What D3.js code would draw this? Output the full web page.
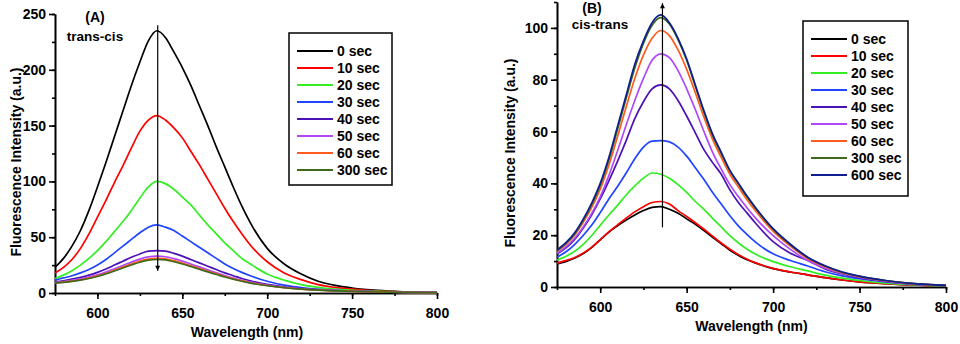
<!DOCTYPE html>
<html>
<head>
<meta charset="utf-8">
<script src="https://cdn.jsdelivr.net/npm/d3@7"></script>
<style>
  body { margin: 0; background: #fff; }
  svg text { font-family: Arial, "Liberation Sans", sans-serif; font-weight: bold; fill: #000; }
</style>
</head>
<body>
<svg id="chart" width="960" height="344"></svg>
<script>
// shared wavelength grid (nm)
const wavelengths = [575, 580, 585, 590, 595, 600, 605, 610, 615, 620, 625, 630, 635, 640, 645, 650, 655, 660,
  665, 670, 675, 680, 685, 690, 700, 710, 720, 730, 740, 750, 765, 780, 800];

// (A) trans-cis
const legendA = ["0 sec", "10 sec", "20 sec", "30 sec", "40 sec", "50 sec", "60 sec", "300 sec"];
const aSec0 = [23, 31, 42, 56, 74, 95, 117, 140, 163, 186, 207, 226, 235, 229, 216, 202, 186, 168, 150, 131, 113, 95, 78, 63, 40, 26, 17, 10.5, 6.8, 4.5, 2.3, 1.1, 0.3];
const aSec10 = [18, 23, 30, 40, 53, 68, 83, 99, 114, 130, 145, 155, 159, 155, 148, 139, 127, 115, 102, 89, 76, 64, 53, 43, 28, 18, 12, 7.5, 5, 3.4, 1.8, 1, 0.3];
const aSec20 = [13, 16, 20, 25, 31, 38, 46, 55, 64, 74, 85, 95, 100, 98, 93, 86, 79, 70, 61, 53, 45, 38, 31, 26, 17, 11.5, 7.5, 5, 3.4, 2.4, 1.4, 0.8, 0.3];
const aSec30 = [11.5, 13.5, 15.5, 18, 21, 25, 30, 36, 42, 48, 54, 59, 61, 59, 56, 51, 46, 41, 36, 31, 26, 22, 18.5, 15.5, 10.5, 7, 4.8, 3.3, 2.4, 1.8, 1.1, 0.6, 0.3];
const aSec40 = [10, 11, 12.5, 14, 16, 18.5, 21.5, 25, 28.5, 32, 35, 37.5, 38, 37.5, 35.5, 33, 30, 27, 24, 21, 18, 15.5, 13, 11, 7.8, 5.5, 4, 3, 2.2, 1.7, 1.1, 0.6, 0.3];
const aSec50 = [9.5, 10.3, 11.3, 12.6, 14.2, 16.2, 18.8, 21.7, 24.7, 27.7, 30.4, 32.3, 33, 32.5, 30.8, 28.6, 26, 23.4, 20.8, 18.2, 15.7, 13.4, 11.4, 9.7, 7, 5, 3.7, 2.8, 2.1, 1.6, 1, 0.6, 0.3];
const aSec60 = [9, 9.8, 10.7, 11.9, 13.4, 15.3, 17.7, 20.4, 23.2, 26, 28.6, 30.4, 31, 30.6, 29, 26.9, 24.5, 22, 19.6, 17.2, 14.8, 12.7, 10.8, 9.2, 6.7, 4.8, 3.5, 2.6, 2, 1.5, 1, 0.6, 0.3];
const aSec300 = [8.8, 9.5, 10.4, 11.6, 13, 14.8, 17.1, 19.7, 22.4, 25.1, 27.6, 29.4, 30, 29.6, 28, 26, 23.7, 21.3, 18.9, 16.6, 14.3, 12.3, 10.5, 8.9, 6.5, 4.7, 3.4, 2.5, 1.9, 1.4, 0.9, 0.6, 0.3];

// (B) cis-trans
const legendB = ["0 sec", "10 sec", "20 sec", "30 sec", "40 sec", "50 sec", "60 sec", "300 sec", "600 sec"];
const bSec0 = [8.9, 9.8, 11.1, 12.8, 15.2, 18.2, 21.2, 23.6, 25.8, 27.8, 29.5, 30.7, 31, 30, 28.5, 26.3, 24.2, 21.8, 19.2, 16.7, 14.2, 12.2, 10.5, 9.2, 7.1, 5.8, 4.7, 3.6, 2.7, 2, 1.3, 0.8, 0.4];
const bSec10 = [9.2, 10.2, 11.3, 13, 15.3, 18.2, 21.3, 24, 26.6, 29, 31, 32.6, 33, 32, 29.5, 27.2, 24.8, 22.3, 19.6, 17, 14.6, 12.5, 10.7, 9.3, 7.2, 5.8, 4.7, 3.6, 2.7, 2, 1.3, 0.8, 0.4];
const bSec20 = [10.4, 11.8, 13.7, 16.4, 19.8, 23.8, 27.8, 31.5, 35.5, 39, 42, 44, 43.5, 42, 39.5, 36.5, 33, 30, 26.5, 23.2, 19.8, 17, 14.6, 12.6, 9.8, 7.8, 6.2, 4.6, 3.4, 2.5, 1.5, 0.9, 0.4];
const bSec30 = [11.5, 13.5, 16.3, 19.8, 23.8, 28.7, 34, 38.8, 44, 49.5, 54, 56.3, 56.5, 56, 54, 50.5, 46, 41.5, 36.5, 32, 27.5, 23.5, 20.2, 17.2, 12.8, 10.2, 8.1, 5.9, 4.3, 3.2, 2, 1.1, 0.5];
const bSec40 = [12.7, 15, 18.2, 22.6, 27.8, 34, 41, 48.5, 56.5, 65, 71.5, 76.5, 78, 76.5, 72, 66, 59.5, 53, 48, 43.5, 37.5, 32.5, 28.5, 24.5, 17.5, 13, 10.2, 7, 5, 3.6, 2.2, 1.2, 0.6];
const bSec50 = [13, 15.4, 18.6, 23, 28.3, 34.8, 43, 52.5, 62.5, 72, 80.5, 87.5, 90, 88.5, 83.5, 76.5, 68.5, 60, 52, 45.5, 39.5, 34.8, 30.5, 26.5, 19.8, 14.5, 10.2, 7.3, 5.2, 3.8, 2.3, 1.3, 0.6];
const bSec60 = [13.8, 16.4, 19.9, 24.8, 30.6, 37.8, 47, 58, 69.5, 80.5, 89.5, 96, 99, 97, 91.5, 84, 75, 65.5, 57, 50, 43.5, 38.5, 33.6, 29.2, 21.6, 15.8, 11, 7.8, 5.5, 4, 2.4, 1.3, 0.6];
const bSec300 = [14, 16.7, 20.3, 25.5, 31.7, 39.2, 49, 60.8, 72.8, 84.5, 94, 101, 104, 101.5, 95.5, 87.5, 77.5, 67.5, 58.5, 51.5, 44.8, 39.7, 34.7, 30.2, 22.3, 16.3, 11.4, 8.1, 5.7, 4.1, 2.5, 1.4, 0.6];
const bSec600 = [14.3, 17, 20.7, 26, 32.3, 40, 50, 62, 74, 86, 95, 102, 105, 102, 96, 88, 78, 68, 59, 52, 45, 40, 35, 30.5, 22.5, 16.5, 11.5, 8.2, 5.8, 4.2, 2.5, 1.4, 0.6];

// arrows: [wavelength, from intensity, to intensity]
const arrowA = [635.5, 240, 20];
const arrowB = [636, 23, 109.5];

const colors = ["#000000", "#ff0000", "#33ee22", "#1f45ff", "#4a12b5", "#b048f8", "#ff5a1f", "#3d6b1a", "#101e90"];

const svg = d3.select("#chart");

svg.append("defs").append("marker")
    .attr("id", "head")
    .attr("viewBox", "0 0 10 10")
    .attr("refX", 10)
    .attr("refY", 5)
    .attr("markerWidth", 7)
    .attr("markerHeight", 5)
    .attr("markerUnits", "userSpaceOnUse")
    .attr("orient", "auto")
  .append("path")
    .attr("d", "M0,0L10,5L0,10Z")
    .attr("fill", "#000");

const drawPanel = (p) => {
  const g = svg.append("g");
  const x = d3.scaleLinear().domain([575, 800]).range([p.left, p.right]);
  const y = d3.scaleLinear().domain([0, p.yMax]).range([p.bottom, p.top]);

  // minor ticks
  g.append("g")
      .attr("transform", "translate(0," + p.bottom + ")")
      .call(d3.axisBottom(x).tickValues(d3.range(575, 801, 25)).tickSize(3).tickSizeOuter(0).tickFormat(""));
  g.append("g")
      .attr("transform", "translate(" + p.left + ",0)")
      .call(d3.axisLeft(y).tickValues(d3.range(0, p.yMax + 0.1, p.yStep / 2)).tickSize(3).tickSizeOuter(0).tickFormat(""));

  // major ticks + labels
  g.append("g")
      .attr("transform", "translate(0," + p.bottom + ")")
      .call(d3.axisBottom(x).tickValues(d3.range(600, 801, 50)).tickSize(6).tickSizeOuter(0).tickPadding(9));
  g.append("g")
      .attr("transform", "translate(" + p.left + ",0)")
      .call(d3.axisLeft(y).tickValues(d3.range(0, p.yMax + 0.1, p.yStep)).tickSize(6).tickSizeOuter(0).tickPadding(3));

  g.selectAll(".domain, .tick line").attr("stroke", "#000").attr("stroke-width", 1.6);
  g.selectAll(".tick text").style("font-size", "14px").style("font-family", "Arial, 'Liberation Sans', sans-serif").style("font-weight", "bold");

  const line = d3.line()
      .x((d, i) => x(wavelengths[i]))
      .y(d => y(d))
      .curve(d3.curveMonotoneX);

  p.series.forEach((s, i) => {
    g.append("path")
        .attr("d", line(s))
        .attr("fill", "none")
        .attr("stroke", colors[i])
        .attr("stroke-width", 1.7);
  });

  // arrow
  g.append("line")
      .attr("x1", x(p.arrow[0])).attr("x2", x(p.arrow[0]))
      .attr("y1", y(p.arrow[1])).attr("y2", y(p.arrow[2]))
      .attr("stroke", "#000")
      .attr("stroke-width", 1.2)
      .attr("marker-end", "url(#head)");

  // titles
  g.append("text").attr("x", p.tag[0]).attr("y", p.tag[1]).attr("text-anchor", "middle")
      .style("font-size", "14px").text(p.tag[2]);
  g.append("text").attr("x", p.sub[0]).attr("y", p.sub[1]).attr("text-anchor", "middle")
      .style("font-size", "13.5px").text(p.sub[2]);

  // axis labels
  g.append("text")
      .attr("x", (p.left + p.right) / 2 + p.xLabelShift)
      .attr("y", p.xLabelY)
      .attr("text-anchor", "middle")
      .style("font-size", "14px")
      .text("Wavelength (nm)");
  g.append("text")
      .attr("transform", "translate(" + p.yLabelX + "," + p.yLabelMid + ") rotate(-90)")
      .attr("text-anchor", "middle")
      .style("font-size", "14px")
      .text("Fluorescence Intensity (a.u.)");

  // legend
  const lg = g.append("g").attr("transform", "translate(" + p.legend[0] + "," + p.legend[1] + ")");
  lg.append("rect")
      .attr("width", p.legend[2])
      .attr("height", p.legend[3])
      .attr("fill", "#fff")
      .attr("stroke", "#000")
      .attr("stroke-width", 1.5);
  p.labels.forEach((t, i) => {
    const ry = 18 + i * 17;
    lg.append("line")
        .attr("x1", 8).attr("x2", 44)
        .attr("y1", ry).attr("y2", ry)
        .attr("stroke", colors[i])
        .attr("stroke-width", 2);
    lg.append("text")
        .attr("x", 48)
        .attr("y", ry)
        .attr("dy", "0.36em")
        .style("font-size", "14px")
        .text(t);
  });
};

drawPanel({
  left: 55, right: 437, top: 14, bottom: 293,
  yMax: 250, yStep: 50,
  series: [aSec0, aSec10, aSec20, aSec30, aSec40, aSec50, aSec60, aSec300],
  labels: legendA,
  arrow: arrowA,
  tag: [95, 22, "(A)"],
  sub: [95, 41, "trans-cis"],
  xLabelShift: 1, xLabelY: 337,
  yLabelX: 21, yLabelMid: 162,
  legend: [289, 33, 103, 152]
});

drawPanel({
  left: 557, right: 946, top: 2, bottom: 287,
  yMax: 110, yStep: 20,
  series: [bSec0, bSec10, bSec20, bSec30, bSec40, bSec50, bSec60, bSec300, bSec600],
  labels: legendB,
  arrow: arrowB,
  tag: [592, 13, "(B)"],
  sub: [600, 29, "cis-trans"],
  xLabelShift: 0, xLabelY: 331,
  yLabelX: 515, yLabelMid: 153,
  legend: [803, 21, 105, 175]
});
</script>
</body>
</html>
